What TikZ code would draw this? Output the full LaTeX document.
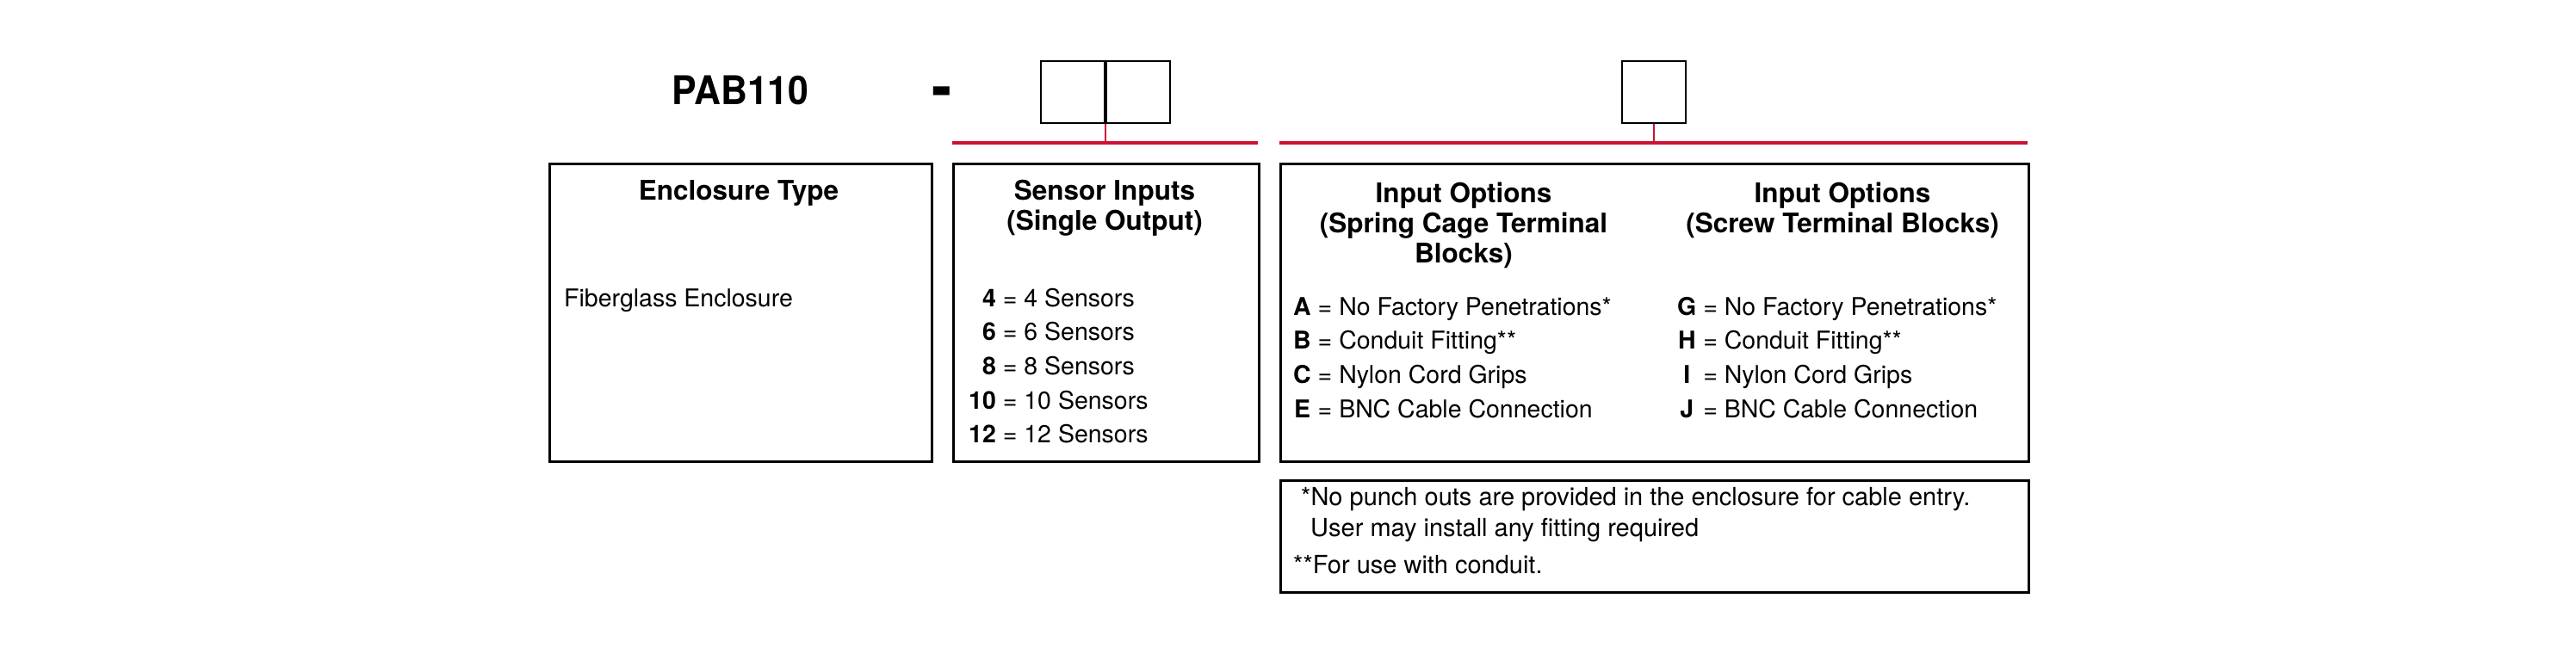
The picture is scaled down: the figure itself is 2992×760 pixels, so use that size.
\documentclass[tikz,border=0pt]{standalone}
\usepackage{fontspec}
\setmainfont{TeX Gyre Heros}
\newfontfamily\partfont[FakeStretch=0.93]{TeX Gyre Heros}
\usetikzlibrary{positioning}
\definecolor{busred}{RGB}{204,18,52}
\newcommand\headsize{\fontsize{31.5}{35}\selectfont\bfseries}
\newcommand\listsize{\fontsize{28.5}{39.7}\selectfont}
\newcommand\notesize{\fontsize{29}{34}\selectfont}
\tikzset{
  panel/.style={draw, line width=3pt, inner sep=0pt, anchor=north west}, % the big boxes
  codebox/.style={draw, line width=2pt, minimum width=74pt, minimum height=72pt, inner sep=0pt}, % empty boxes for the code
  bus/.style={busred, line width=3.5pt}, % red line over a group of boxes
  tap/.style={busred, line width=2.5pt}, % red line from a code box down to its bus
  heading/.style={font=\headsize, inner sep=0pt, align=center, anchor=base}, % base is the last line here
  entry/.style={font=\listsize, inner sep=0pt, anchor=base west},
  note/.style={font=\notesize, inner sep=0pt, anchor=base west},
}

\begin{document}
\begin{tikzpicture}[x=1pt, y=-1pt]
    % picture is 2992 x 760, y runs down
    \useasboundingbox (0,0) rectangle (2992,760);

    % part number and code boxes
    \node[inner sep=0pt, anchor=base, font={\partfont\fontsize{46}{50}\selectfont\bfseries}] (part) at (860,121) {PAB110};
    \node[inner sep=0pt, anchor=base, font={\partfont\fontsize{75}{80}\selectfont\bfseries}] (dash) at (1094,126) {-};
    \node[codebox] (digit1) at (1246,107) {};
    \node[codebox, right=0pt of digit1] (digit2) {};
    \node[codebox] (letter) at (1921,107) {};

    % boxes
    \node[panel, minimum width=444pt, minimum height=346pt] (enclosure) at (637,189) {};
    \node[panel, minimum width=355pt, minimum height=346pt] (sensors) at (1106,189) {};
    \node[panel, minimum width=869pt, minimum height=346pt] (options) at (1486,189) {};
    \node[panel, minimum width=869pt, minimum height=130pt] (notes) at (1486,557) {};

    % red lines
    \coordinate (busA) at (1106,166);
    \coordinate (busB) at (1461,166);
    \coordinate (busC) at (1486,166);
    \coordinate (busD) at (2355,166);
    \draw[bus] (busA) -- (busB);
    \draw[bus] (busC) -- (busD);
    \draw[tap] (digit1.south east) -- (digit1.south east |- busA);
    \draw[tap] (letter.south) -- (letter.south |- busC);

    % enclosure type
    \node[heading] (enclhead) at (858,232) {Enclosure Type};
    \node[entry] (fiber) at (655,356) {Fiberglass Enclosure};

    % sensor inputs
    \node[heading] (senshead) at (1283,267) {Sensor Inputs\\(Single Output)};
    \node[entry] (senslist) at (1125,356) {\begin{tabular}[t]{@{}r@{ = }l@{}}
      \textbf{4} & 4 Sensors\\
      \textbf{6} & 6 Sensors\\
      \textbf{8} & 8 Sensors\\
      \textbf{10} & 10 Sensors\\
      \textbf{12} & 12 Sensors
    \end{tabular}};

    % input options
    \node[heading] (springhead) at (1700,305) {Input Options\\(Spring Cage Terminal\\Blocks)};
    \node[heading] (screwhead) at (2140,270) {Input Options\\(Screw Terminal Blocks)};
    \node[entry] (springlist) at (1502,366) {\begin{tabular}[t]{@{}c@{ = }l@{}}
      \textbf{A} & No Factory Penetrations*\\
      \textbf{B} & Conduit Fitting**\\
      \textbf{C} & Nylon Cord Grips\\
      \textbf{E} & BNC Cable Connection
    \end{tabular}};
    \node[entry] (screwlist) at (1948,366) {\begin{tabular}[t]{@{}c@{ = }l@{}}
      \textbf{G} & No Factory Penetrations*\\
      \textbf{H} & Conduit Fitting**\\
      \textbf{I} & Nylon Cord Grips\\
      \textbf{J} & BNC Cable Connection
    \end{tabular}};

    % notes
    \node[note] (note1) at (1511,587) {*No punch outs are provided in the enclosure for cable entry.};
    \node[note] (note2) at (1522,623) {User may install any fitting required};
    \node[note] (note3) at (1502,666) {**For use with conduit.};

\end{tikzpicture}
\end{document}
